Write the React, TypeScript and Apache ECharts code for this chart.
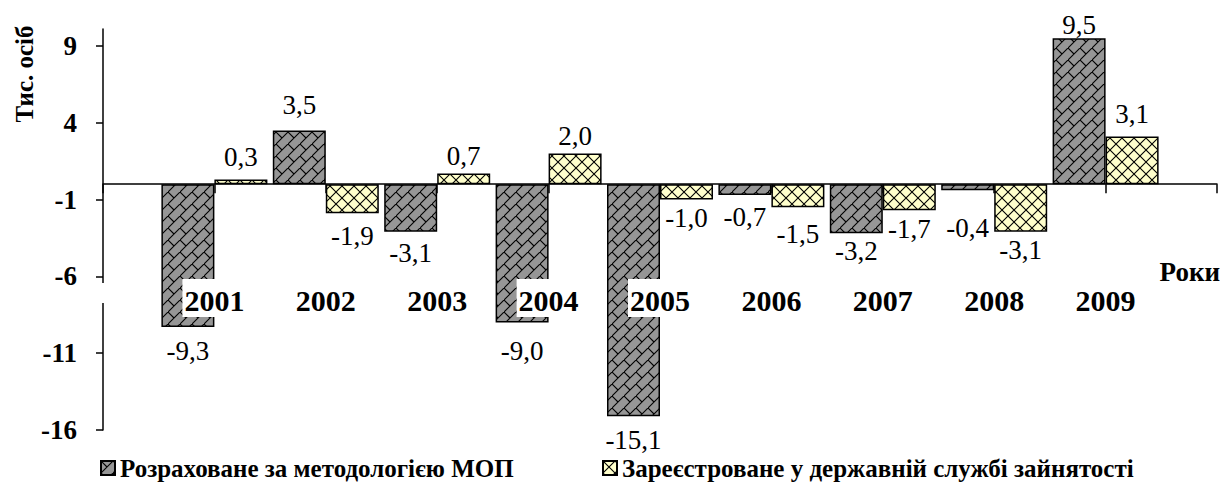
import React, { useEffect, useRef } from 'react';
import * as echarts from 'echarts';

// ---- data ----
const years = ['2001', '2002', '2003', '2004', '2005', '2006', '2007', '2008', '2009'];
const iloValues = [-9.3, 3.5, -3.1, -9.0, -15.1, -0.7, -3.2, -0.4, 9.5];
const registeredValues = [0.3, -1.9, 0.7, 2.0, -1.0, -1.5, -1.7, -3.1, 3.1];
const yTickValues = [-16, -11, -6, -1, 4, 9];
const seriesNames = [
  'Розраховане за методологією МОП',
  'Зареєстроване у державній службі зайнятості',
];

// label distances (styling only)
const iloLabelDist = [10, 12, 8, 15, 10, 9, 4, 24, 0];
const regLabelDist = [9, 9, 4, 4, 5, 13, 5, 5, 9];

const FONT = 'Liberation Serif';

function makePattern(kind: 'brick' | 'cross') {
  const size = 12;
  const c = document.createElement('canvas');
  c.width = size;
  c.height = size;
  const ctx = c.getContext('2d')!;
  ctx.fillStyle = kind === 'brick' ? '#969696' : '#FFFFCC';
  ctx.fillRect(0, 0, size, size);
  ctx.strokeStyle = '#000';
  ctx.lineWidth = 1.1;
  ctx.beginPath();
  ctx.moveTo(-1, size + 1);
  ctx.lineTo(size + 1, -1);
  if (kind === 'brick') {
    ctx.moveTo(0, 0);
    ctx.lineTo(size / 2, size / 2);
  } else {
    ctx.moveTo(-1, -1);
    ctx.lineTo(size + 1, size + 1);
  }
  ctx.stroke();
  return { image: c, repeat: 'repeat', imageWidth: size, imageHeight: size } as any;
}

const fmt = (v: number) => v.toFixed(1).replace('.', ',');

export default function App() {
  const ref = useRef<HTMLDivElement>(null);

  useEffect(() => {
    if (!ref.current) return;
    const chart = echarts.init(ref.current, undefined, { renderer: 'svg' });

    const brick = makePattern('brick');
    const cross = makePattern('cross');

    const xData = ['', ...years, ''];
    const buildData = (vals: number[], dists: number[]) => [
      '-',
      ...vals.map((v, i) => ({
        value: v,
        label: { position: v >= 0 ? 'top' : 'bottom', distance: dists[i] },
      })),
      '-',
    ];

    const labelStyle = {
      show: true,
      fontFamily: FONT,
      fontSize: 27,
      color: '#000',
      formatter: (p: any) => fmt(p.value),
    };

    const legendCommon = {
      orient: 'horizontal',
      top: 455,
      itemWidth: 14,
      itemHeight: 14,
      itemGap: 5,
      padding: 0,
      selectedMode: false,
      icon: 'rect',
      textStyle: {
        fontFamily: FONT,
        fontWeight: 'bold',
        fontSize: 25,
        lineHeight: 26,
        color: '#000',
      },
    };

    chart.setOption({
      animation: false,
      backgroundColor: '#fff',
      grid: {
        left: 103,
        right: 15,
        top: 29,
        bottom: 54,
        containLabel: false,
        outerBoundsMode: 'none',
      },
      legend: [
        { ...legendCommon, left: 100, data: [seriesNames[0]] },
        { ...legendCommon, left: 602, data: [seriesNames[1]] },
      ],
      xAxis: {
        type: 'category',
        data: xData,
        boundaryGap: false,
        z: 6,
        axisLine: { onZero: true, lineStyle: { color: '#000', width: 1.5 } },
        axisTick: { show: true, inside: false, length: 9, lineStyle: { color: '#000', width: 1.5 }, interval: 0 },
        axisLabel: {
          interval: 0,
          margin: -147,
          formatter: (v: string) => (v ? `{y|${v}}` : ''),
          rich: {
            y: {
              fontFamily: FONT,
              fontWeight: 'bold',
              fontSize: 30,
              lineHeight: 30,
              color: '#000',
              backgroundColor: '#fff',
              padding: [6, 2, 2, 2],
            },
          },
        },
        splitLine: { show: false },
      },
      yAxis: {
        type: 'value',
        min: -16,
        max: 10.1,
        axisLine: { show: true, lineStyle: { color: '#000', width: 1.5 } },
        axisTick: {
          show: true,
          length: 7,
          lineStyle: { color: '#000', width: 1.5 },
          customValues: yTickValues,
        },
        axisLabel: {
          customValues: yTickValues,
          margin: 26,
          fontFamily: FONT,
          fontWeight: 'bold',
          fontSize: 27,
          color: '#000',
          formatter: (v: number) => String(v),
        },
        splitLine: { show: false },
      },
      series: [
        {
          name: seriesNames[0],
          type: 'bar',
          data: buildData(iloValues, iloLabelDist),
          barWidth: 53,
          barGap: '0%',
          itemStyle: { color: brick, borderColor: '#000', borderWidth: 1.5 },
          label: labelStyle,
          z: 3,
        },
        {
          name: seriesNames[1],
          type: 'bar',
          data: buildData(registeredValues, regLabelDist),
          barWidth: 53,
          barGap: '0%',
          itemStyle: { color: cross, borderColor: '#000', borderWidth: 1.5 },
          label: labelStyle,
          z: 3,
        },
      ],
      graphic: [
        {
          type: 'text',
          x: 24,
          y: 74,
          rotation: Math.PI / 2,
          style: {
            text: 'Тис. осіб',
            fontFamily: FONT,
            fontWeight: 'bold',
            fontSize: 25,
            fill: '#000',
            align: 'center',
            verticalAlign: 'middle',
          },
        },
        {
          type: 'text',
          x: 1220,
          y: 272,
          style: {
            text: 'Роки',
            fontFamily: FONT,
            fontWeight: 'bold',
            fontSize: 27,
            fill: '#000',
            align: 'right',
            verticalAlign: 'middle',
          },
        },
        {
          type: 'rect',
          shape: { x: 98, y: 283, width: 10, height: 20 },
          style: { fill: '#fff' },
          z: 10,
        },
      ],
    });

    return () => chart.dispose();
  }, []);

  return (
    <div
      ref={ref}
      style={{ position: 'fixed', left: 0, top: 0, width: 1232, height: 484 }}
    />
  );
}
